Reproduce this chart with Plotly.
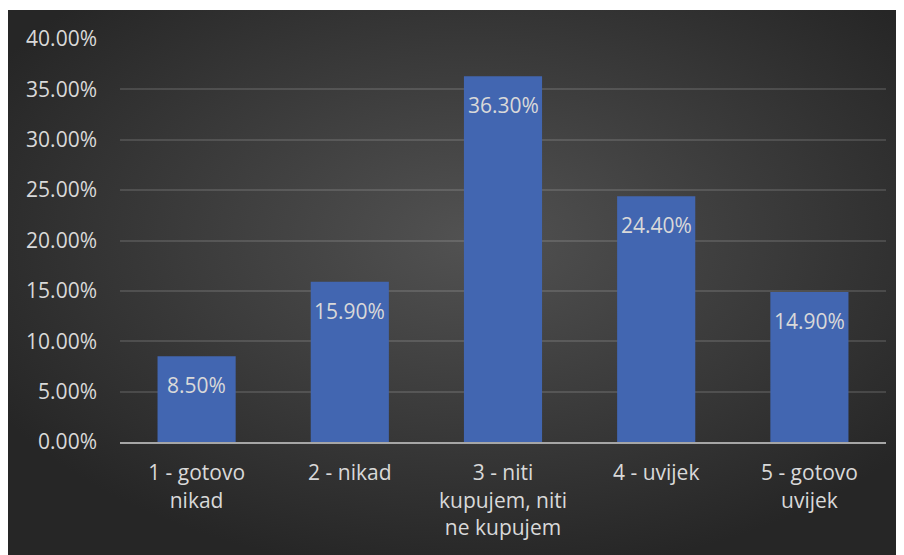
import base64
import plotly.graph_objects as go

categories = ["1 - gotovo<br>nikad", "2 - nikad", "3 - niti<br>kupujem, niti<br>ne kupujem",
              "4 - uvijek", "5 - gotovo<br>uvijek"]
values = [8.5, 15.9, 36.3, 24.4, 14.9]
tick_vals = [0, 5, 10, 15, 20, 25, 30, 35, 40]
tick_text = ["0.00%", "5.00%", "10.00%", "15.00%", "20.00%", "25.00%", "30.00%", "35.00%", "40.00%"]
labels = [f"{v:.2f}%" for v in values]

FONT = "Open Sans"
TXT = "#d9d9d9"

W, H = 896, 547
L, R, T, B = 112, 18, 31, 113
pw, ph = W - L - R, H - T - B

svg = (
    '<svg xmlns="http://www.w3.org/2000/svg" width="896" height="545" viewBox="0 0 896 545" '
    'preserveAspectRatio="none">'
    '<defs><radialGradient id="g" cx="52%" cy="42%" r="62%">'
    '<stop offset="0%" stop-color="#525252"/>'
    '<stop offset="100%" stop-color="#262626"/>'
    '</radialGradient></defs>'
    '<rect x="0" y="0" width="896" height="545" fill="url(#g)"/></svg>'
)
src = "data:image/svg+xml;base64," + base64.b64encode(svg.encode()).decode()

fig = go.Figure()
fig.add_trace(go.Bar(
    x=categories, y=values,
    marker=dict(color="#4266b1", line=dict(width=0)),
    hoverinfo="skip",
))

for c, v, t in zip(categories, values, labels):
    fig.add_annotation(x=c, y=v, text=t, showarrow=False, yanchor="middle",
                       yshift=-29, font=dict(family=FONT, size=21, color=TXT))

fig.add_layout_image(dict(
    source=src, xref="paper", yref="paper",
    x=(0 - L) / pw, y=(H - B - 2) / ph,
    sizex=896 / pw, sizey=545 / ph,
    xanchor="left", yanchor="top", sizing="stretch", layer="below",
))

fig.update_layout(
    width=W, height=H,
    margin=dict(l=L, r=R, t=T, b=B, pad=0),
    paper_bgcolor="white", plot_bgcolor="rgba(0,0,0,0)",
    bargap=0.49,
    showlegend=False,
    font=dict(family=FONT, size=21, color=TXT),
    xaxis=dict(showgrid=False, showline=True, linecolor="#a6a6a6", linewidth=2,
               ticks="", tickfont=dict(family=FONT, size=21, color=TXT),
               ticklabelstandoff=11, zeroline=False),
    yaxis=dict(range=[0, 40], tickvals=tick_vals, ticktext=tick_text,
               showgrid=True, gridcolor="rgba(255,255,255,0.13)", gridwidth=1.5,
               zeroline=False, showline=False, ticks="",
               tickfont=dict(family=FONT, size=21, color=TXT),
               ticklabelstandoff=22),
)

fig.write_html("out.html")
